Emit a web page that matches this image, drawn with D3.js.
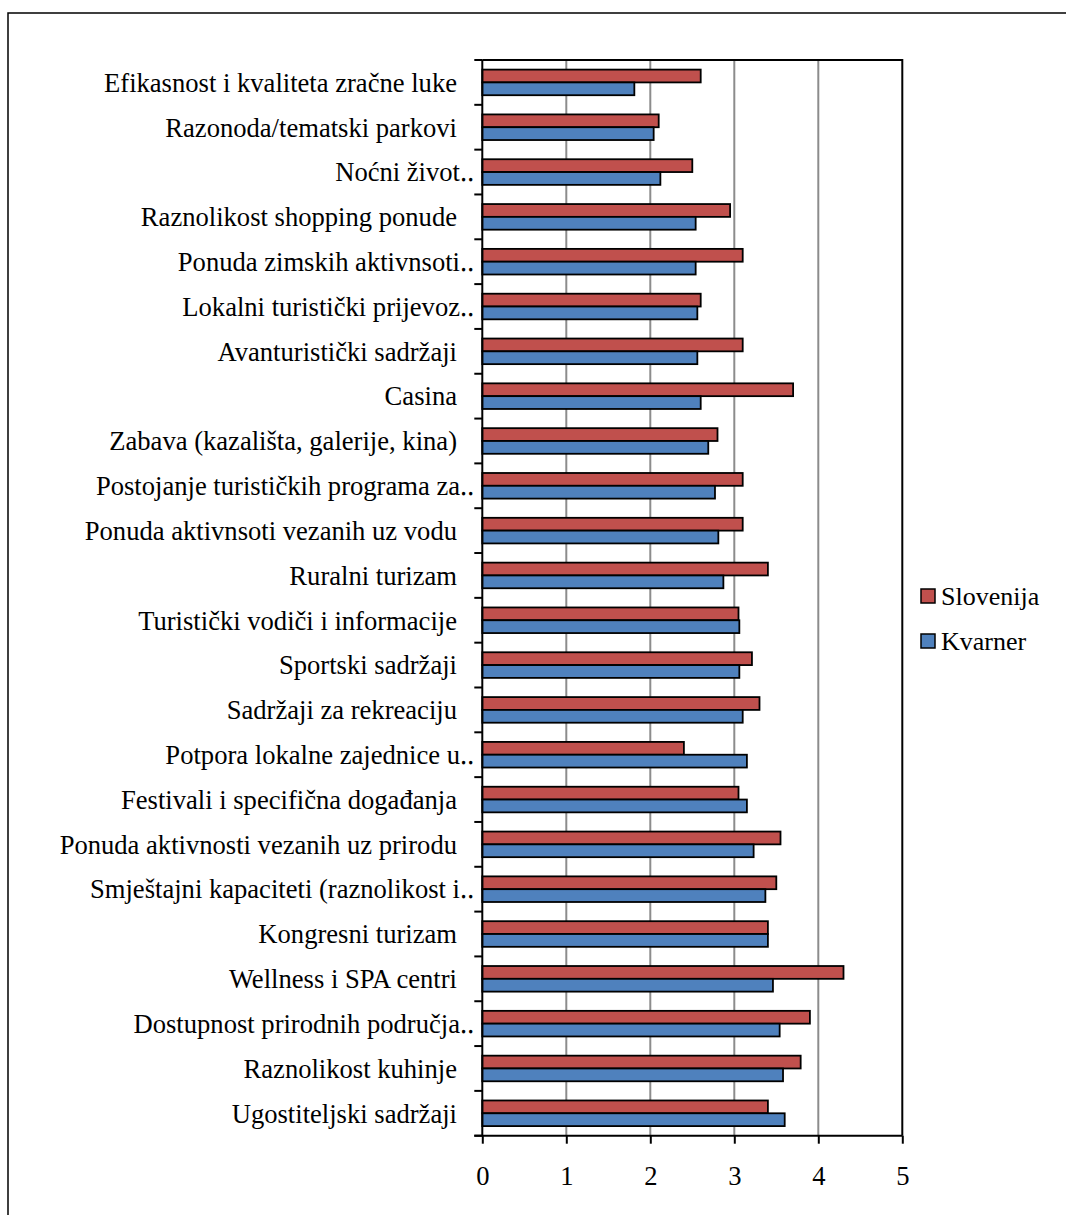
<!DOCTYPE html>
<html>
<head>
<meta charset="utf-8">
<script src="https://cdn.jsdelivr.net/npm/d3@7"></script>
<style>
html,body{margin:0;padding:0;background:#fff;}
svg{display:block;}
text{font-family:"Liberation Serif","Times New Roman",serif;fill:#000;}
</style>
</head>
<body>
<svg id="chart" width="1066" height="1215"></svg>
<script>
const categories = [
  "Efikasnost i kvaliteta zračne luke",
  "Razonoda/tematski parkovi",
  "Noćni život‥",
  "Raznolikost shopping ponude",
  "Ponuda zimskih aktivnsoti‥",
  "Lokalni turistički prijevoz‥",
  "Avanturistički sadržaji",
  "Casina",
  "Zabava (kazališta, galerije, kina)",
  "Postojanje turističkih programa za‥",
  "Ponuda aktivnsoti vezanih uz vodu",
  "Ruralni turizam",
  "Turistički vodiči i informacije",
  "Sportski sadržaji",
  "Sadržaji za rekreaciju",
  "Potpora lokalne zajednice u‥",
  "Festivali i specifična događanja",
  "Ponuda aktivnosti vezanih uz prirodu",
  "Smještajni kapaciteti (raznolikost i‥",
  "Kongresni turizam",
  "Wellness i SPA centri",
  "Dostupnost prirodnih područja‥",
  "Raznolikost kuhinje",
  "Ugostiteljski sadržaji"
];
const slovenija = [2.60,2.10,2.50,2.95,3.10,2.60,3.10,3.70,2.80,3.10,3.10,3.40,3.05,3.21,3.30,2.40,3.05,3.55,3.50,3.40,4.30,3.90,3.79,3.40];
const kvarner   = [1.81,2.04,2.12,2.54,2.54,2.56,2.56,2.60,2.69,2.77,2.81,2.87,3.06,3.06,3.10,3.15,3.15,3.23,3.37,3.40,3.46,3.54,3.58,3.60];
const seriesNames = ["Slovenija","Kvarner"];
const seriesColors = ["#C0504D","#4F81BD"];
const xTicks = [0,1,2,3,4,5];

const svg = d3.select("#chart");
const L = 482.3, R = 902.3, T = 60, B = 1135.7;

// outer chart border
svg.append("rect").attr("x",8).attr("y",13).attr("width",1100).attr("height",1250)
  .attr("fill","none").attr("stroke","#000").attr("stroke-width",1.5);

const x = d3.scaleLinear().domain([0,5]).range([L,R]);
const y0 = d3.scaleBand().domain(categories).range([T,B]).paddingInner(0.4286).paddingOuter(0.2143);
const y1 = d3.scaleBand().domain(seriesNames).range([0,y0.bandwidth()]);

// gridlines
svg.append("g").selectAll("line").data(xTicks.filter(d=>d>0 && d<5)).join("line")
  .attr("x1",d=>x(d)).attr("x2",d=>x(d)).attr("y1",T).attr("y2",B)
  .attr("stroke","#8c8c8c").attr("stroke-width",2);

// plot frame top/right
svg.append("path").attr("d",`M${L},${T}H${R}V${B}`).attr("fill","none")
  .attr("stroke","#000").attr("stroke-width",2);

// bars
const rows = categories.map((c,i)=>({c, vals:[slovenija[i],kvarner[i]]}));
const g = svg.append("g");
rows.forEach(r=>{
  r.vals.forEach((v,j)=>{
    g.append("rect")
      .attr("x",x(0)).attr("y",y0(r.c)+y1(seriesNames[j]))
      .attr("width",x(v)-x(0)).attr("height",y1.bandwidth())
      .attr("fill",seriesColors[j]).attr("stroke","#000").attr("stroke-width",1.8);
  });
});

// y axis
const step = y0.step();
const boundaries = d3.range(categories.length+1).map(i=>T+i*step);
svg.append("line").attr("x1",L).attr("x2",L).attr("y1",T).attr("y2",B).attr("stroke","#000").attr("stroke-width",2);
svg.append("g").selectAll("line").data(boundaries).join("line")
  .attr("x1",L-8).attr("x2",L).attr("y1",d=>d).attr("y2",d=>d).attr("stroke","#000").attr("stroke-width",2);

// category labels
svg.append("g").selectAll("text").data(categories).join("text")
  .attr("x",d=>d.endsWith("‥")?474:457)
  .attr("y",d=>y0(d)+y0.bandwidth()/2+9.3)
  .attr("text-anchor","end").attr("font-size","26.6px").text(d=>d);

// x axis
svg.append("line").attr("x1",L-8).attr("x2",R).attr("y1",B).attr("y2",B).attr("stroke","#000").attr("stroke-width",2);
const xAxis = svg.append("g").attr("transform",`translate(0,${B})`)
  .call(d3.axisBottom(x).tickValues(xTicks).tickSize(8).tickPadding(22).tickFormat(d3.format("d")));
xAxis.select(".domain").remove();
xAxis.selectAll(".tick line").attr("stroke","#000").attr("stroke-width",2);
xAxis.selectAll(".tick text").attr("font-size","26.6px").attr("font-family","Liberation Serif, Times New Roman, serif").attr("fill","#000");

// legend
const leg = svg.append("g");
seriesNames.forEach((s,i)=>{
  const yy = 589 + i*45;
  leg.append("rect").attr("x",921).attr("y",yy).attr("width",14).attr("height",14)
    .attr("fill",seriesColors[i]).attr("stroke","#000").attr("stroke-width",1.5);
  leg.append("text").attr("x",941).attr("y",yy+16).attr("font-size","26px").text(s);
});
</script>
</body>
</html>
